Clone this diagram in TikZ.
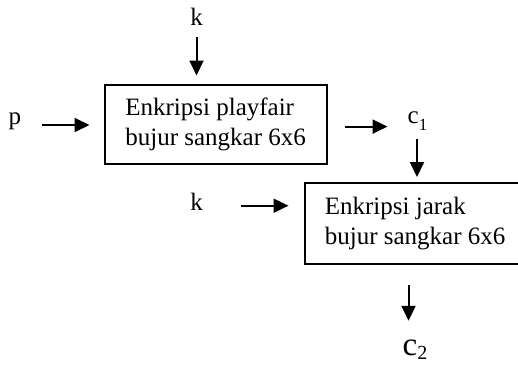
\documentclass[tikz,border=0pt]{standalone}
\usepackage{fontspec}
\setmainfont{Liberation Serif}
\usetikzlibrary{arrows.meta}
\tikzset{
  lbl/.style={inner sep=0pt, font=\fontsize{25}{30}\selectfont},
  box/.style={draw, line width=2.2pt, inner sep=0pt, align=left,
    font=\fontsize{25}{30}\selectfont},
  arr/.style={line width=2pt, -{Triangle[length=15pt,width=14pt]}}
}
\begin{document}
\begin{tikzpicture}[x=1pt,y=-1pt]
  \useasboundingbox (0,0) rectangle (518,364);

  % processing stages
  \node[box, anchor=north west, minimum width=222pt, minimum height=79pt]
    (box1) at (103.5,83.5) {Enkripsi playfair\\bujur sangkar 6x6};
  \node[box, anchor=north west, minimum width=221pt, minimum height=81pt]
    (box2) at (303.5,182) {Enkripsi jarak\\bujur sangkar 6x6};

  % inputs and outputs
  \node[lbl, anchor=base] (k1) at (196.5,25.7) {k};
  \node[lbl, anchor=base] (p) at (15,124) {p};
  \node[lbl, anchor=base west] (c1) at (407.5,123)
    {c\raisebox{-7pt}{\fontsize{17}{17}\selectfont 1}};
  \node[lbl, anchor=base] (k2) at (196.5,210.7) {k};
  \node[lbl, anchor=base west] (c2) at (402.5,355.5)
    {{\fontsize{33}{33}\selectfont c}\raisebox{-4pt}{\fontsize{20}{20}\selectfont 2}};

  % connectors
  \draw[arr, shorten <=11pt, shorten >=8pt]
    (k1.south) -- (k1.south |- box1.north);
  \draw[arr, shorten <=21pt, shorten >=14pt]
    ([yshift=-1pt]p.base east) -- ([yshift=-1pt]p.base east -| box1.west);
  \draw[arr, shorten <=17pt, shorten >=20pt]
    ([yshift=-2.5pt]box1.east) -- ([yshift=-2.5pt]box1.east -| c1.west);
  \draw[arr, shorten <=9pt, shorten >=5pt]
    ([xshift=-0.5pt]c1.south) -- ([xshift=-0.5pt]c1.south |- box2.north);
  \draw[arr, shorten <=38pt, shorten >=15pt]
    ([yshift=5pt]k2.base east) -- ([yshift=5pt]k2.base east -| box2.west);
  \draw[arr, shorten <=20pt, shorten >=19pt]
    ([xshift=-6.5pt]c2.north |- box2.south) -- ([xshift=-6.5pt]c2.north);
\end{tikzpicture}
\end{document}
